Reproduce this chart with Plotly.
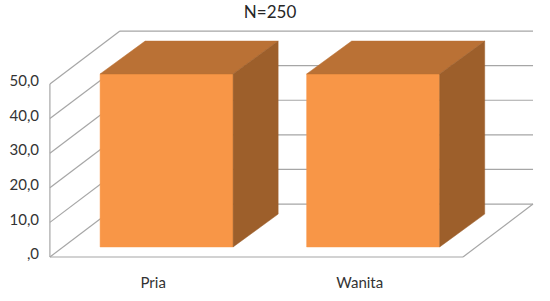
import plotly.graph_objects as go

# ---- data ----
CATEGORIES = ["Pria", "Wanita"]
VALUES = [50.0, 50.0]
Y_TICKS = [0, 10, 20, 30, 40, 50]
Y_TICK_LABELS = [",0", "10,0", "20,0", "30,0", "40,0", "50,0"]
TITLE = "N=250"

# ---- 3D styling (in axis units) ----
WALL_DX, WALL_DY = 0.339, 15.3     # depth of the back wall
FRONT_DX, FRONT_DY = 0.065, 2.9    # bar front face offset from front plane
BAR_DX, BAR_DY = 0.218, 9.5        # bar depth
BAR_W = 0.644
C_FRONT, C_TOP, C_SIDE = "#F89647", "#BA7135", "#9D5F2B"
GRID = "#A6A6A6"
FONT = "Lato"

n = len(CATEGORIES)
x0, x1 = -0.5, n - 0.5
ymax = max(Y_TICKS)

fig = go.Figure()
shapes = []

def line(xa, ya, xb, yb):
    shapes.append(dict(type="line", xref="x", yref="y", x0=xa, y0=ya, x1=xb, y1=yb,
                       line=dict(color=GRID, width=1.2), layer="below"))

# back wall gridlines and left wall diagonals
for v in Y_TICKS:
    line(x0 + WALL_DX, v + WALL_DY, x1 + WALL_DX, v + WALL_DY)
    line(x0, v, x0 + WALL_DX, v + WALL_DY)
# left wall front edge
line(x0, 0, x0, ymax)
# floor front and right edges
line(x0, 0, x1, 0)
line(x1, 0, x1 + WALL_DX, WALL_DY)

# bars
for i, v in enumerate(VALUES):
    cx = i + FRONT_DX
    l, r = cx - BAR_W / 2, cx + BAR_W / 2
    b, t = FRONT_DY, v + FRONT_DY
    faces = [
        ([l, r, r, l, l], [b, b, t, t, b], C_FRONT),
        ([l, r, r + BAR_DX, l + BAR_DX, l], [t, t, t + BAR_DY, t + BAR_DY, t], C_TOP),
        ([r, r + BAR_DX, r + BAR_DX, r, r], [b, b + BAR_DY, t + BAR_DY, t, b], C_SIDE),
    ]
    for xs, ys, c in faces:
        fig.add_trace(go.Scatter(x=xs, y=ys, fill="toself", fillcolor=c, mode="lines",
                                 line=dict(width=0.5, color=c), hoverinfo="skip",
                                 showlegend=False))

fig.update_layout(
    width=550, height=301,
    margin=dict(l=40, r=5, t=25, b=29),
    paper_bgcolor="white", plot_bgcolor="white",
    shapes=shapes,
    title=dict(text=TITLE, x=0.491, xanchor="center", yref="container", y=1 - 12 / 301,
               yanchor="middle", font=dict(family=FONT, size=17, color="#262626")),
    font=dict(family=FONT, color="#333333"),
    xaxis=dict(range=[-0.548, 1.897], showgrid=False, zeroline=False, showline=False,
               tickvals=list(range(n)), ticktext=CATEGORIES, ticks="",
               tickfont=dict(size=15, family=FONT, color="#333333")),
    yaxis=dict(range=[-4.34, 67.05], showgrid=False, zeroline=False, showline=False,
               tickvals=Y_TICKS, ticktext=Y_TICK_LABELS, ticks="",
               ticklabelshift=-3,
               tickfont=dict(size=15, family=FONT, color="#333333")),
)

fig.write_html("out.html")
